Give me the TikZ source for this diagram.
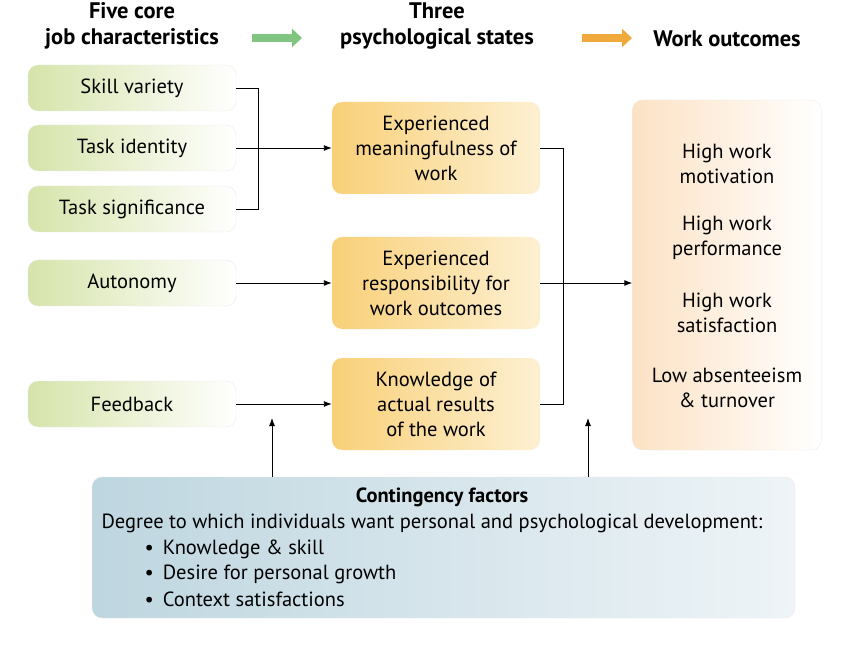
\documentclass[tikz,border=0pt]{standalone}
\usepackage{fontspec}
\setmainfont{PT Sans}
\usetikzlibrary{arrows.meta}
\begin{document}
\begin{tikzpicture}[x=1pt,y=-1pt,
 gbox/.style={rounded corners=10pt,left color={rgb,255:red,214;green,228;blue,170},right color=white,draw=black!8, minimum width=208pt,minimum height=46pt,font=\fontsize{20.5}{25}\selectfont,inner sep=0pt},
 obox/.style={rounded corners=10pt,left color={rgb,255:red,249;green,208;blue,120},right color={rgb,255:red,253;green,240;blue,210}, minimum width=208pt,minimum height=92pt,font=\fontsize{20.5}{25}\selectfont,align=center,inner sep=0pt},
 hd/.style={font=\bfseries\fontsize{22.5}{26}\selectfont,align=center},
 tx/.style={font=\fontsize{20.5}{25}\selectfont},
 conn/.style={line width=0.9pt},
 arr/.style={line width=0.9pt,-{Latex[length=8pt,width=6pt]}},
 bigarr/.style={line width=8pt,-{Triangle[length=10pt,width=18pt]}}]
\useasboundingbox (0,0) rectangle (862,660);
\node[hd] (h1) at (132,26) {Five core\\job characteristics};
\node[hd] (h2) at (437,26) {Three\\psychological states};
\node[hd] (h3) at (727,39) {Work outcomes};
\coordinate (ga) at (252,38); \coordinate (gb) at (302,38);
\draw[bigarr,color=green!55!black!50] (ga) -- (gb);
\coordinate (oa) at (582,38); \coordinate (ob) at (632,38);
\draw[bigarr,color={rgb,255:red,240;green,170;blue,60}] (oa) -- (ob);
\node[gbox] (sv) at (132,88) {Skill variety};
\node[gbox] (ti) at (132,148) {Task identity};
\node[gbox] (ts) at (132,209) {Task significance};
\node[gbox] (au) at (132,283) {Autonomy};
\node[gbox] (fb) at (132,404) {Feedback};
\node[obox] (p1) at (436,148) {Experienced\\meaningfulness of\\work};
\node[obox] (p2) at (436,283) {Experienced\\responsibility for\\work outcomes};
\node[obox] (p3) at (436,404) {Knowledge of\\actual results\\of the work};
\node[rounded corners=10pt,left color={rgb,255:red,252;green,226;blue,196},right color=white,draw=black!8,minimum width=189pt,minimum height=350pt] (wo) at (727,275) {};
\foreach \t/\yy in {{High work\\motivation}/164,{High work\\performance}/238,{High work\\satisfaction}/313,{Low absenteeism\\\& turnover}/388}
  \node[tx,align=center] at (727,\yy) {\t};
\node[rounded corners=10pt,left color={rgb,255:red,190;green,214;blue,224},right color={rgb,255:red,238;green,244;blue,247},draw=black!8,minimum width=703pt,minimum height=141pt] (cf) at (443.5,547.5) {};
\node[font=\bfseries\fontsize{20.5}{25}\selectfont] at (442,497) {Contingency factors};
\node[tx,anchor=west] at (98,523) {Degree to which individuals want personal and psychological development:};
\foreach \t/\yy in {Knowledge \& skill/549,Desire for personal growth/574,Context satisfactions/599}
  \node[tx,anchor=west] at (141,\yy) {\textbullet\hspace{9pt}\t};
% connectors
\coordinate (b1) at (258,88); \coordinate (b2) at (258,209); \coordinate (b3) at (258,148);
\draw[conn] (sv.east) -- (b1) -- (b2) -- (ts.east);
\draw[arr] (b3) -- (b3 -| p1.west);
\draw[conn] (ti.east) -- (b3);
\draw[arr] (au.east) -- (p2.west);
\draw[arr] (fb.east) -- (p3.west);
\coordinate (r1) at (563,148); \coordinate (r3) at (563,404); \coordinate (r2) at (563,283);
\draw[conn] (p1.east) -- (r1) -- (r3) -- (p3.east);
\draw[conn] (p2.east) -- (r2);
\draw[arr] (r2) -- (r2 -| wo.west);
\coordinate (u1) at (272,477); \coordinate (u1t) at (272,418);
\coordinate (u2) at (588,477); \coordinate (u2t) at (588,418);
\draw[arr] (u1) -- (u1t);
\draw[arr] (u2) -- (u2t);
\end{tikzpicture}
\end{document}
